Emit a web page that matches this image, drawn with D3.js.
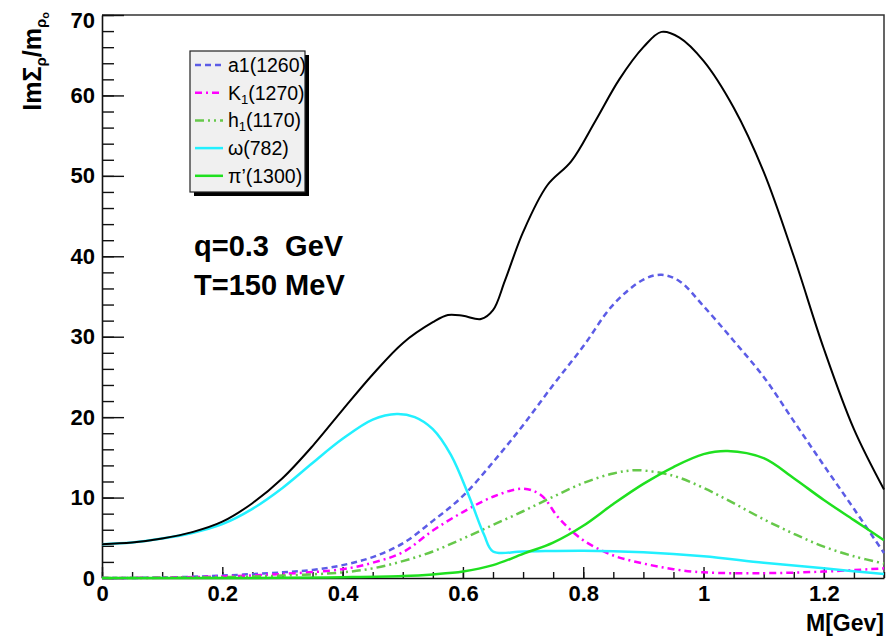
<!DOCTYPE html>
<html>
<head>
<meta charset="utf-8">
<script src="https://cdn.jsdelivr.net/npm/d3@7"></script>
<style>
  body { margin: 0; background: #fff; }
  svg { display: block; font-family: "Liberation Sans", Arial, sans-serif; }
</style>
</head>
<body>
<div id="chart"></div>
<script>
// values (M in GeV)
const totalM   = [0, 0.05, 0.1, 0.15, 0.2, 0.25, 0.3, 0.35, 0.4, 0.45, 0.5, 0.55, 0.575, 0.6, 0.63, 0.65, 0.67, 0.7, 0.74, 0.78, 0.82, 0.86, 0.9, 0.93, 0.96, 1.0, 1.05, 1.1, 1.15, 1.2, 1.25, 1.3];
const totalVal = [4.2, 4.4, 4.9, 5.7, 7.0, 9.3, 12.4, 16.4, 20.9, 25.3, 29.2, 31.8, 32.7, 32.6, 32.2, 33.3, 37, 43, 48.8, 51.8, 56.8, 62, 66, 67.9, 67.2, 64.3, 58.5, 50.5, 40, 28.5, 18.5, 11];

const a1M   = [0, 0.1, 0.2, 0.3, 0.35, 0.4, 0.45, 0.5, 0.55, 0.6, 0.65, 0.7, 0.75, 0.8, 0.85, 0.9, 0.93, 0.96, 1.0, 1.05, 1.1, 1.15, 1.2, 1.25, 1.3];
const a1Val = [0, 0.05, 0.3, 0.7, 1.0, 1.6, 2.6, 4.3, 7.1, 10.2, 14.4, 19, 24, 28.8, 34.0, 37.1, 37.7, 36.9, 33.8, 29.5, 25.0, 19.5, 14, 8.6, 3.1];

const k1M   = [0, 0.1, 0.2, 0.3, 0.4, 0.45, 0.5, 0.55, 0.6, 0.65, 0.7, 0.73, 0.76, 0.8, 0.85, 0.9, 0.95, 1.0, 1.1, 1.2, 1.3];
const k1Val = [0, 0.05, 0.2, 0.5, 1.1, 1.9, 3.2, 5.9, 8.2, 10.1, 11.1, 10.3, 7.4, 4.7, 2.8, 1.8, 1.1, 0.7, 0.6, 0.8, 1.2];

const h1M   = [0, 0.1, 0.2, 0.3, 0.4, 0.45, 0.5, 0.55, 0.6, 0.65, 0.7, 0.75, 0.8, 0.85, 0.89, 0.95, 1.0, 1.05, 1.1, 1.15, 1.2, 1.25, 1.3];
const h1Val = [0, 0.02, 0.1, 0.3, 0.7, 1.2, 2.1, 3.3, 4.9, 6.6, 8.3, 10.1, 11.8, 13.0, 13.4, 12.7, 11.2, 9.3, 7.3, 5.5, 3.9, 2.7, 1.8];

const omegaM   = [0, 0.05, 0.1, 0.15, 0.2, 0.25, 0.3, 0.35, 0.4, 0.45, 0.49, 0.52, 0.55, 0.58, 0.61, 0.635, 0.65, 0.7, 0.8, 0.9, 1.0, 1.1, 1.2, 1.3];
const omegaVal = [4.2, 4.4, 4.9, 5.6, 6.7, 8.6, 11.2, 14.3, 17.3, 19.7, 20.4, 20.0, 18.5, 15.3, 10.2, 5.4, 3.3, 3.3, 3.4, 3.2, 2.7, 1.9, 1.2, 0.5];

const piM   = [0, 0.1, 0.2, 0.3, 0.4, 0.5, 0.55, 0.6, 0.65, 0.7, 0.75, 0.8, 0.85, 0.9, 0.95, 1.0, 1.04, 1.1, 1.15, 1.2, 1.25, 1.3];
const piVal = [0, 0, 0, 0.02, 0.1, 0.25, 0.45, 0.8, 1.6, 3.0, 4.4, 6.5, 9.2, 11.7, 13.8, 15.4, 15.8, 14.9, 12.4, 9.7, 7.2, 4.7];

const xTickLabels = [0, 0.2, 0.4, 0.6, 0.8, 1, 1.2];
const yTickLabels = [0, 10, 20, 30, 40, 50, 60, 70];

const width = 894, height = 638;
const margin = { left: 102, right: 10, top: 15, bottom: 60 };

const x = d3.scaleLinear().domain([0, 1.3]).range([margin.left, width - margin.right]);
const y = d3.scaleLinear().domain([0, 70]).range([height - margin.bottom, margin.top]);

const svg = d3.select("#chart").append("svg")
    .attr("width", width)
    .attr("height", height);

// frame (top and right)
svg.append("path")
    .attr("d", `M${x(0)},${y(70)}H${x(1.3)}V${y(0)}`)
    .attr("fill", "none")
    .attr("stroke", "#333")
    .attr("stroke-width", 1.5);

// x axis: minor then major ticks, pointing inward
svg.append("g")
    .attr("transform", `translate(0,${y(0)})`)
    .call(d3.axisBottom(x).tickValues(d3.range(0, 27).map(i => i * 0.05)).tickSizeInner(-6).tickSizeOuter(0).tickFormat(""))
    .call(g => g.select(".domain").remove());
const xAxis = svg.append("g")
    .attr("transform", `translate(0,${y(0)})`)
    .call(d3.axisBottom(x).tickValues(xTickLabels).tickSizeInner(-11).tickSizeOuter(0).tickPadding(7).tickFormat(d3.format("")));
xAxis.selectAll("text").attr("font-size", 22).attr("font-weight", "bold").attr("fill", "#000").attr("font-family", null);

// y axis
svg.append("g")
    .attr("transform", `translate(${x(0)},0)`)
    .call(d3.axisLeft(y).tickValues(d3.range(0, 36).map(i => i * 2)).tickSizeInner(-12).tickSizeOuter(0).tickFormat(""))
    .call(g => g.select(".domain").remove());
const yAxis = svg.append("g")
    .attr("transform", `translate(${x(0)},0)`)
    .call(d3.axisLeft(y).tickValues(yTickLabels).tickSizeInner(-22).tickSizeOuter(0).tickPadding(7));
yAxis.selectAll("text").attr("font-size", 22).attr("font-weight", "bold").attr("fill", "#000").attr("font-family", null);
// top label sits a little lower, as in the original
yAxis.selectAll(".tick").filter(d => d === 70).select("text").attr("dy", "0.55em");

svg.selectAll(".tick line").attr("stroke", "#111").attr("stroke-width", 1.4);
svg.selectAll(".domain").attr("stroke", "#111").attr("stroke-width", 1.6);

// axis titles
svg.append("text")
    .attr("x", x(1.3))
    .attr("y", 631)
    .attr("text-anchor", "end")
    .attr("font-size", 23)
    .attr("font-weight", "bold")
    .text("M[Gev]");

const ylab = svg.append("text")
    .attr("transform", "translate(41,12) rotate(-90)")
    .attr("text-anchor", "end")
    .attr("font-size", 25)
    .attr("font-weight", "bold");
ylab.append("tspan").text("ImΣ");
ylab.append("tspan").attr("font-size", 15).attr("dy", 5).text("ρ");
ylab.append("tspan").attr("dy", -5).text("/m");
ylab.append("tspan").attr("font-size", 15).attr("dy", 5).text("ρ");
ylab.append("tspan").attr("font-size", 11).attr("dy", 3).text("o");

// curves
const series = [
    { m: a1M,    v: a1Val,    color: "#5c5ce6", width: 2.5, dash: "6,4" },
    { m: k1M,    v: k1Val,    color: "#ff00ff", width: 2.5, dash: "7,4,2,4" },
    { m: h1M,    v: h1Val,    color: "#66c84a", width: 2.5, dash: "9,4,2,4,2,4" },
    { m: omegaM, v: omegaVal, color: "#22f0ff", width: 2.5, dash: null },
    { m: piM,    v: piVal,    color: "#1fe01f", width: 2.5, dash: null },
    { m: totalM, v: totalVal, color: "#000",    width: 2,   dash: null }
];

const line = d3.line()
    .x(d => x(d[0]))
    .y(d => y(d[1]))
    .curve(d3.curveCatmullRom.alpha(0.5));

svg.append("g")
    .selectAll("path")
    .data(series)
    .join("path")
    .attr("d", s => line(s.m.map((m, i) => [m, s.v[i]])))
    .attr("fill", "none")
    .attr("stroke", s => s.color)
    .attr("stroke-width", s => s.width)
    .attr("stroke-dasharray", s => s.dash);

// legend
const legend = svg.append("g");
legend.append("rect").attr("x", 194).attr("y", 55).attr("width", 115).attr("height", 141).attr("fill", "#000");
legend.append("rect").attr("x", 190).attr("y", 51).attr("width", 115).attr("height", 141)
    .attr("fill", "#f0f0f0").attr("stroke", "#222").attr("stroke-width", 1.2);

const entries = [
    { s: series[0], label: ["a1(1260)"] },
    { s: series[1], label: ["K", "1", "(1270)"] },
    { s: series[2], label: ["h", "1", "(1170)"] },
    { s: series[3], label: ["ω(782)"] },
    { s: series[4], label: ["π’(1300)"] }
];

entries.forEach((e, i) => {
    const cy = 65 + i * 27.7;
    legend.append("line")
        .attr("x1", 195).attr("x2", 223).attr("y1", cy).attr("y2", cy)
        .attr("stroke", e.s.color)
        .attr("stroke-width", e.s.width)
        .attr("stroke-dasharray", e.s.dash);
    const t = legend.append("text").attr("x", 228).attr("y", cy + 7).attr("font-size", 19.5);
    t.append("tspan").text(e.label[0]);
    if (e.label.length > 1) {
        t.append("tspan").attr("font-size", 13).attr("dy", 4).text(e.label[1]);
        t.append("tspan").attr("dy", -4).text(e.label[2]);
    }
});

// annotation
svg.append("text").attr("x", 194).attr("y", 256).attr("font-size", 29).attr("font-weight", "bold")
    .style("white-space", "pre").text("q=0.3  GeV");
svg.append("text").attr("x", 194).attr("y", 295).attr("font-size", 29).attr("font-weight", "bold")
    .text("T=150 MeV");
</script>
</body>
</html>
